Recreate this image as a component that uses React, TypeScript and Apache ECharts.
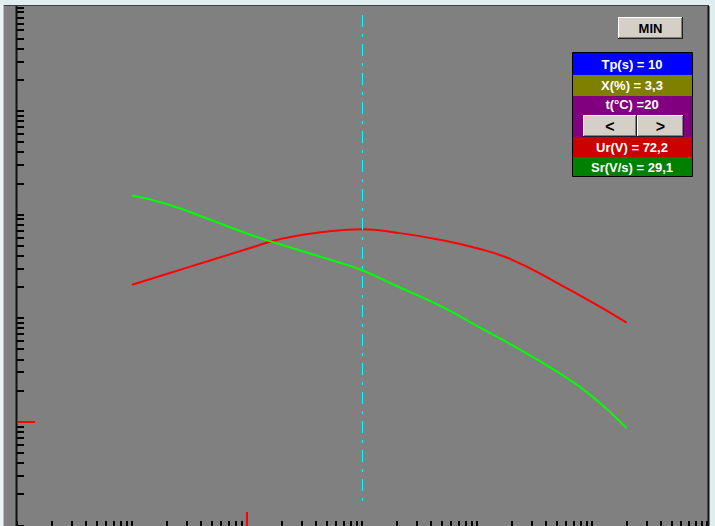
import { useEffect, useRef } from "react";
import * as echarts from "echarts";

// Period axis (s), log scale
const periods = [0.1, 0.2, 0.5, 1, 2, 5, 10, 20, 50, 100, 200, 500, 1000, 2000];
// Ur (V) response
const urValues = [21.1, 26.8, 36.7, 46.6, 58.7, 68.7, 72.2, 67.0, 56.8, 47.4, 36.9, 21.9, 14.3, 9.1];
// Sr (V/s) response
const srValues = [153, 127, 87.9, 65.8, 51.2, 37.5, 29.1, 20.5, 12.9, 8.43, 5.54, 3.04, 1.77, 0.87];

const xRange = [0.01, 10000];
const yRange = [0.1, 10000];
const cursorPeriod = 10;
const referenceValue = 1;

// Tick mantissas for each decade
const mantissas = [1, 2, 3, 4, 5, 6, 7, 8, 9];
const xDecades = [0.01, 0.1, 1, 10, 100, 1000];
const yDecades = [0.1, 1, 10, 100, 1000];

const readoutLabels = ["Tp(s) = 10", "X(%) = 3,3", "t(°C) =20", "Ur(V) = 72,2", "Sr(V/s) = 29,1"];
const readoutColors = ["#0000ff", "#808000", "#800080", "#cc0000", "#008000"];

const FONT = "'Liberation Sans', Arial, sans-serif";

function tickValues(decades: number[], top: number) {
  const out: number[] = [];
  decades.forEach((d) => mantissas.forEach((m) => out.push(d * m)));
  out.push(top);
  return out;
}

function button(x: number, y: number, w: number, h: number, label: string, size: number) {
  const z = 20;
  return [
    { type: "rect", z, shape: { x, y, width: w, height: h }, style: { fill: "#d4d0c8" } },
    { type: "line", z: z + 1, shape: { x1: x, y1: y + 0.5, x2: x + w - 1, y2: y + 0.5 }, style: { stroke: "#ffffff", lineWidth: 1 } },
    { type: "line", z: z + 1, shape: { x1: x + 0.5, y1: y, x2: x + 0.5, y2: y + h - 1 }, style: { stroke: "#ffffff", lineWidth: 1 } },
    { type: "line", z: z + 1, shape: { x1: x, y1: y + h - 0.5, x2: x + w, y2: y + h - 0.5 }, style: { stroke: "#202020", lineWidth: 1 } },
    { type: "line", z: z + 1, shape: { x1: x + w - 0.5, y1: y, x2: x + w - 0.5, y2: y + h }, style: { stroke: "#202020", lineWidth: 1 } },
    { type: "line", z: z + 1, shape: { x1: x + 1, y1: y + h - 1.5, x2: x + w - 1, y2: y + h - 1.5 }, style: { stroke: "#808080", lineWidth: 1 } },
    { type: "line", z: z + 1, shape: { x1: x + w - 1.5, y1: y + 1, x2: x + w - 1.5, y2: y + h - 1 }, style: { stroke: "#808080", lineWidth: 1 } },
    {
      type: "text",
      z: z + 2,
      x: x + w / 2,
      y: y + h / 2,
      style: { text: label, fill: "#000", font: `bold ${size}px ${FONT}`, align: "center", verticalAlign: "middle" },
    },
  ];
}

export default function App() {
  const ref = useRef<HTMLDivElement>(null);

  useEffect(() => {
    if (!ref.current) return;
    const chart = echarts.init(ref.current, undefined, { renderer: "svg" });
    const gridLeft = 17;
    const gridTop = 7.5;
    const gridW = 690;
    const gridH = 518;

    const hiddenAxis = {
      type: "log" as const,
      logBase: 10,
      axisLine: { show: false },
      axisTick: { show: false },
      axisLabel: { show: false },
      splitLine: { show: false },
    };

    chart.setOption({
      animation: false,
      backgroundColor: "#dfedf0",
      grid: { left: gridLeft, top: gridTop, width: gridW, height: gridH, show: false },
      xAxis: { ...hiddenAxis, min: xRange[0], max: xRange[1] },
      yAxis: { ...hiddenAxis, min: yRange[0], max: yRange[1] },
      series: [
        {
          name: "Ur",
          type: "line",
          data: periods.map((p, i) => [p, urValues[i]]),
          smooth: 0.5,
          symbol: "none",
          z: 3,
          lineStyle: { color: "#ff0000", width: 2 },
        },
        {
          name: "Sr",
          type: "line",
          data: periods.map((p, i) => [p, srValues[i]]),
          smooth: 0.5,
          symbol: "none",
          z: 3,
          lineStyle: { color: "#00ff00", width: 2 },
        },
      ],
    });

    const px = (v: number) => chart.convertToPixel({ xAxisIndex: 0 }, v) as number;
    const py = (v: number) => chart.convertToPixel({ yAxisIndex: 0 }, v) as number;

    const yTicks = tickValues(yDecades, yRange[1]).map((v) => {
      const y = Math.round(py(v));
      return {
        type: "line",
        z: 5,
        shape: { x1: gridLeft, y1: y, x2: gridLeft + 7, y2: y },
        style: { stroke: "#000", lineWidth: 2 },
      };
    });
    const xTicks = tickValues(xDecades, xRange[1]).map((v) => {
      const x = Math.round(px(v));
      return {
        type: "line",
        z: 5,
        shape: { x1: x, y1: 521, x2: x, y2: 527 },
        style: { stroke: "#000", lineWidth: 2 },
      };
    });

    const cx = Math.round(px(cursorPeriod)) + 0.5;
    const refY = Math.round(py(referenceValue));
    const refX = Math.round(px(referenceValue));

    const rows = [
      [53, 75],
      [75, 96],
      [96, 137],
      [137, 157],
      [157, 177],
    ];
    const textY = [64, 85.5, 104.5, 147, 167];

    const legend = readoutLabels.flatMap((label, i) => [
      {
        type: "rect",
        z: 15,
        shape: { x: 573, y: rows[i][0], width: 119, height: rows[i][1] - rows[i][0] },
        style: { fill: readoutColors[i] },
      },
      {
        type: "text",
        z: 16,
        x: 632,
        y: textY[i],
        style: { text: label, fill: "#ffffff", font: `bold 13px ${FONT}`, align: "center", verticalAlign: "middle" },
      },
    ]);

    chart.setOption({
      graphic: [
        // plotting surface
        { type: "rect", z: 0, shape: { x: 4, y: 5, width: 705, height: 521 }, style: { fill: "#808080" } },
        { type: "rect", z: 0, shape: { x: 0, y: 5, width: 3, height: 521 }, style: { fill: "#eef4f5" } },
        { type: "line", z: 1, shape: { x1: 3.5, y1: 5, x2: 3.5, y2: 526 }, style: { stroke: "#b4bcbe", lineWidth: 1 } },
        { type: "line", z: 1, shape: { x1: 4, y1: 5.5, x2: 709, y2: 5.5 }, style: { stroke: "#404040", lineWidth: 1 } },
        { type: "line", z: 6, shape: { x1: 16.5, y1: 6, x2: 16.5, y2: 526 }, style: { stroke: "#111", lineWidth: 2 } },
        { type: "line", z: 6, shape: { x1: 708.5, y1: 6, x2: 708.5, y2: 526 }, style: { stroke: "#111", lineWidth: 2 } },
        ...yTicks,
        ...xTicks,
        // reference markers at value 1
        { type: "line", z: 7, shape: { x1: gridLeft, y1: refY, x2: gridLeft + 18, y2: refY }, style: { stroke: "#ff0000", lineWidth: 2 } },
        { type: "line", z: 7, shape: { x1: refX, y1: 512, x2: refX, y2: 527 }, style: { stroke: "#ff0000", lineWidth: 2 } },
        // cursor
        {
          type: "line",
          z: 4,
          shape: { x1: cx, y1: 15, x2: cx, y2: 504 },
          style: { stroke: "#00ffff", lineWidth: 1, lineDash: [12, 7, 3, 7] },
        },
        // readout panel
        ...legend,
        { type: "rect", z: 17, shape: { x: 572.5, y: 52.5, width: 120, height: 124 }, style: { fill: "none", stroke: "#000", lineWidth: 1 } },
        ...button(583, 115, 54, 22, "<", 16),
        ...button(637, 115, 47, 22, ">", 16),
        ...button(618, 17, 65, 22, "MIN", 13),
      ],
    });

    return () => chart.dispose();
  }, []);

  return <div ref={ref} style={{ position: "fixed", left: 0, top: 0, width: 715, height: 526 }} />;
}
